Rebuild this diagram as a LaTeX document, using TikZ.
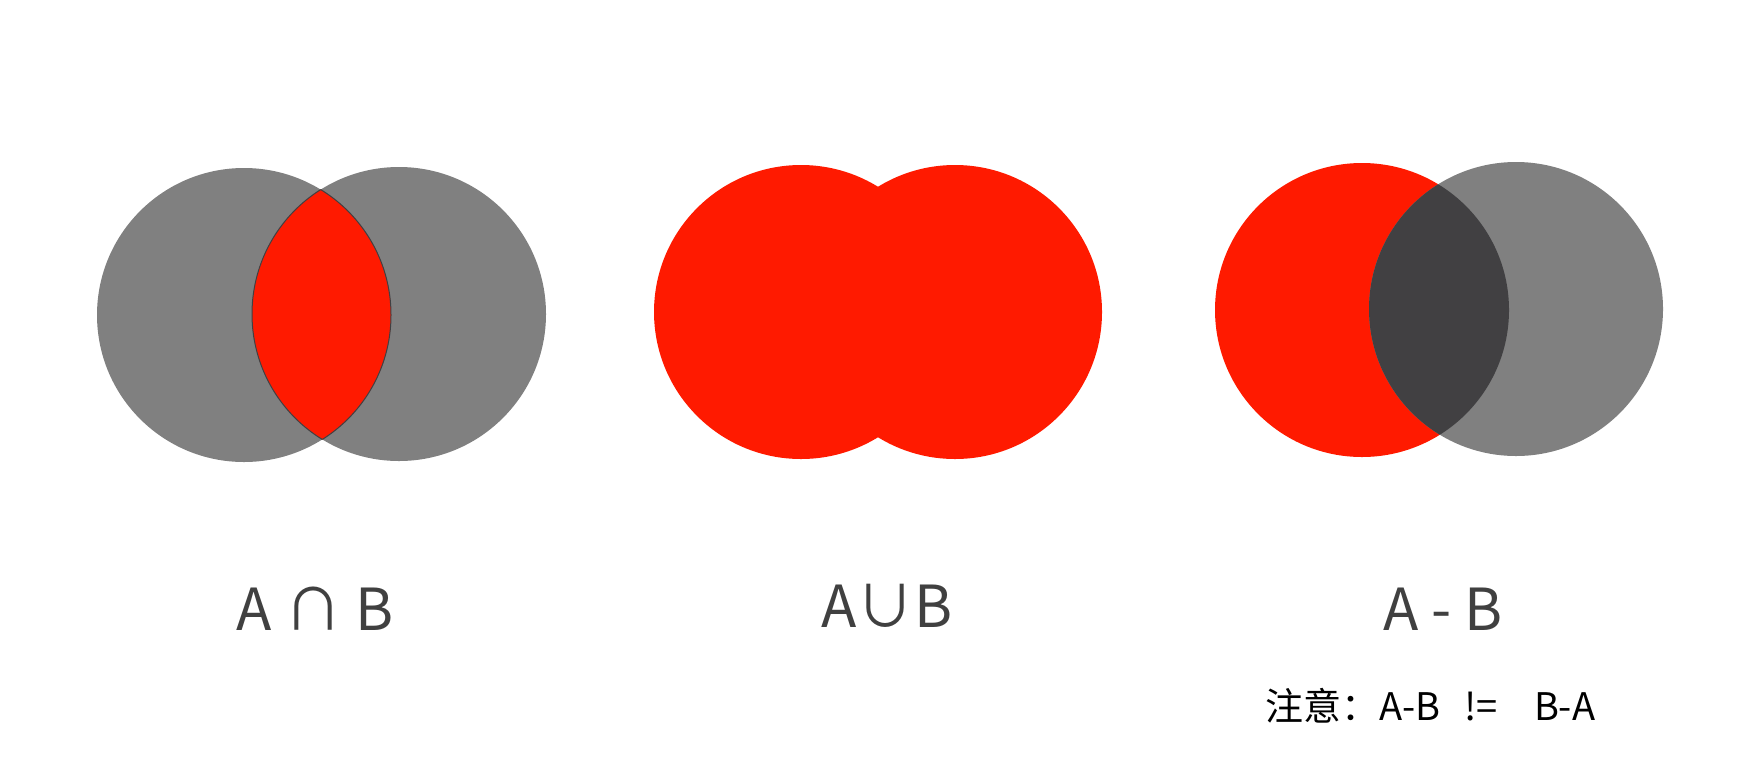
\documentclass[tikz,border=0pt]{standalone}
\usepackage{fontspec}
\setmainfont{Noto Sans CJK SC}
\definecolor{vred}{RGB}{255,26,0}
\definecolor{vgray}{RGB}{128,128,128}
\definecolor{vdark}{RGB}{65,64,66}
\definecolor{lbl}{RGB}{64,64,64}
\begin{document}
\begin{tikzpicture}[x=0.5pt,y=-0.5pt,
  lab/.style={font=\fontsize{29}{34}\selectfont, text=lbl, inner sep=0pt, anchor=base west},
  note/.style={font=\fontsize{19}{23}\selectfont, text=black, inner sep=0pt, anchor=base west},
  rad/.style={radius=73.5pt}]
\path[use as bounding box] (0,0) rectangle (1743,761);
% ---------- A intersect B
\coordinate (a1) at (244,315);
\coordinate (b1) at (399,314);
\fill[vgray] (a1) circle[rad];
\fill[vgray] (b1) circle[rad];
\begin{scope}
  \clip (a1) circle[rad];
  \fill[vred] (b1) circle[rad];
  \draw[vdark, line width=0.5pt] (b1) circle[rad];
\end{scope}
\begin{scope}
  \clip (b1) circle[rad];
  \draw[vdark, line width=0.5pt] (a1) circle[rad];
\end{scope}
% ---------- A union B
\coordinate (a2) at (801,312);
\coordinate (b2) at (955,312);
\fill[vred] (a2) circle[rad];
\fill[vred] (b2) circle[rad];
% ---------- A - B
\coordinate (a3) at (1362,310);
\coordinate (b3) at (1516,309);
\fill[vred] (a3) circle[rad];
\fill[vgray] (b3) circle[rad];
\begin{scope}
  \clip (a3) circle[rad];
  \fill[vdark] (b3) circle[rad];
\end{scope}
% ---------- labels
\node[lab] (l1) at (236,630) {A ∩ B};
\node[lab] (l2) at (821,627) {A∪B};
\node[lab] (l3) at (1383,630) {A - B};
\node[note] (n) at (1265,720) {注意：A-B\hspace{12pt}!=\hspace{18pt}B-A};
\end{tikzpicture}
\end{document}
